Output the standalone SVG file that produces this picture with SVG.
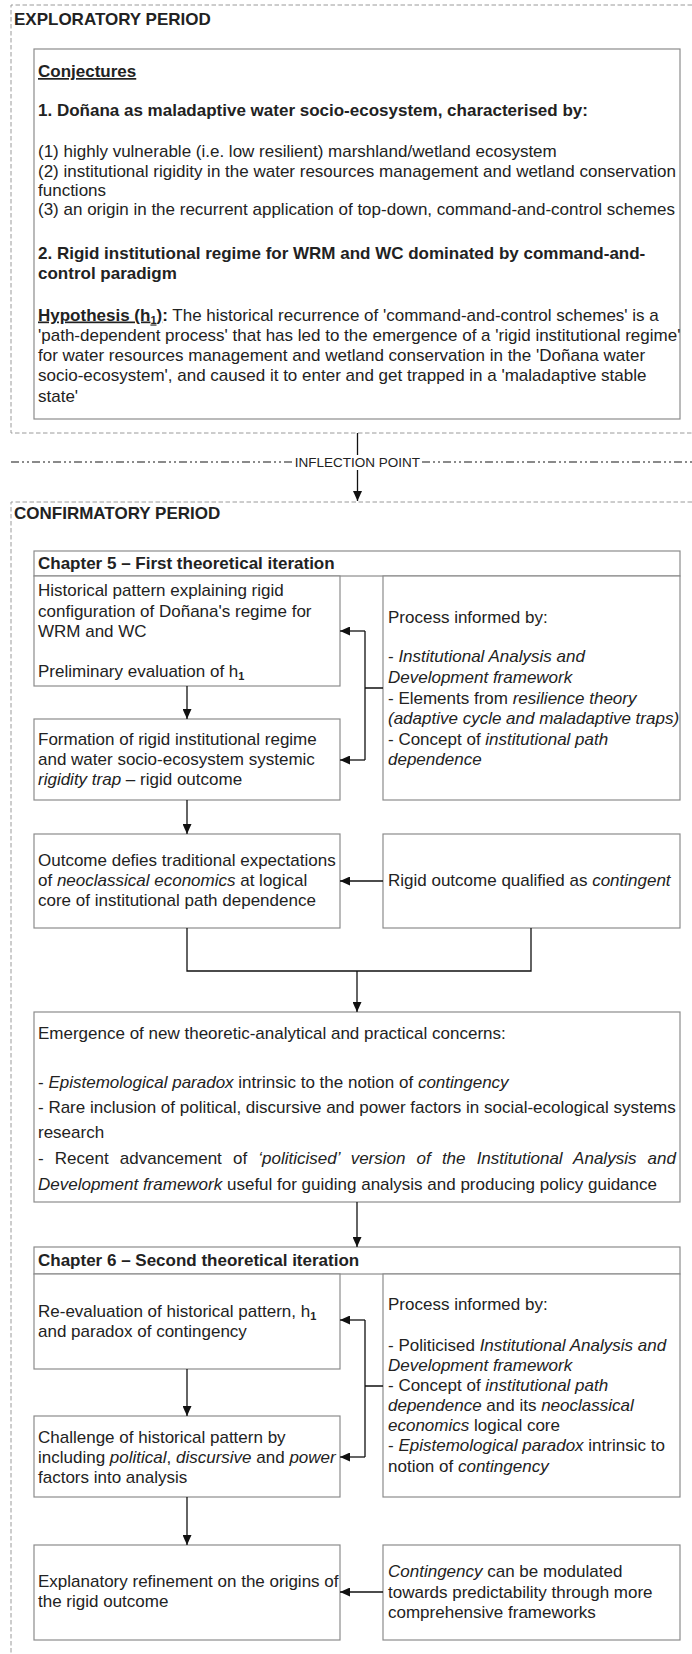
<svg xmlns="http://www.w3.org/2000/svg" width="692" height="1654" viewBox="0 0 692 1654">
<style>
text{font-family:"Liberation Sans",Arial,sans-serif;font-size:17px;fill:#222}
.b{font-weight:bold}
.i{font-style:italic}
.u{text-decoration:underline}
.sub{font-size:11px;font-weight:bold}
.box{fill:#fff;stroke:#8c8c8c;stroke-width:1.2}
.dash{fill:none;stroke:#9a9a9a;stroke-width:1;stroke-dasharray:4.5 2.5}
.dd{fill:none;stroke:#8a8a8a;stroke-width:1.8;stroke-dasharray:8 3 2 3 2 3}
.conn{fill:none;stroke:#111;stroke-width:1.3}
.arr{marker-end:url(#ah)}
</style>
<defs>
<marker id="ah" markerUnits="userSpaceOnUse" markerWidth="10" markerHeight="9" refX="10" refY="4.5" orient="auto">
<path d="M0,0 L10,4.5 L0,9 z" fill="#111"/>
</marker>
</defs>
<rect width="692" height="1654" fill="#fff"/>

<g id="exploratory-period">
<path class="dash" d="M692,5 H11 V433 H692"/>
<text x="14" y="25" class="b">EXPLORATORY PERIOD</text>
</g>

<g id="conjectures">
<rect class="box" x="34" y="49" width="646" height="370"/>
<text x="38" y="77" class="b u">Conjectures</text>
<text x="38" y="116" class="b">1. Doñana as maladaptive water socio-ecosystem, characterised by:</text>
<text x="38" y="157">(1) highly vulnerable (i.e. low resilient) marshland/wetland ecosystem</text>
<text x="38" y="176.5">(2) institutional rigidity in the water resources management and wetland conservation</text>
<text x="38" y="196">functions</text>
<text x="38" y="215">(3) an origin in the recurrent application of top-down, command-and-control schemes</text>
<text x="38" y="258.5" class="b">2. Rigid institutional regime for WRM and WC dominated by command-and-</text>
<text x="38" y="278.5" class="b">control paradigm</text>
<text x="38" y="320.5"><tspan class="b u">Hypothesis (h<tspan class="sub" dy="3">1</tspan><tspan dy="-3">)</tspan></tspan><tspan class="b">:</tspan> The historical recurrence of 'command-and-control schemes' is a</text>
<text x="38" y="341">'path-dependent process' that has led to the emergence of a 'rigid institutional regime'</text>
<text x="38" y="361">for water resources management and wetland conservation in the 'Doñana water</text>
<text x="38" y="381">socio-ecosystem', and caused it to enter and get trapped in a 'maladaptive stable</text>
<text x="38" y="401.5">state'</text>
</g>

<g id="inflection-point">
<path class="dd" d="M11,462 H293 M422,462 H692"/>
<text x="357.5" y="467" text-anchor="middle" style="font-size:13.5px">INFLECTION POINT</text>
</g>

<g id="confirmatory-period">
<path class="dash" d="M692,502 H11 V1654"/>
<text x="14" y="519" class="b">CONFIRMATORY PERIOD</text>
</g>

<g id="ch5-header">
<rect class="box" x="34" y="551" width="646" height="25"/>
<text x="38" y="569" class="b">Chapter 5 – First theoretical iteration</text>
</g>

<g id="historical-pattern">
<rect class="box" x="34" y="576" width="306" height="110"/>
<text x="38" y="596">Historical pattern explaining rigid</text>
<text x="38" y="616.5">configuration of Doñana's regime for</text>
<text x="38" y="637">WRM and WC</text>
<text x="38" y="677">Preliminary evaluation of h<tspan class="sub" dy="3">1</tspan></text>
</g>

<g id="formation">
<rect class="box" x="34" y="719" width="306" height="81"/>
<text x="38" y="745">Formation of rigid institutional regime</text>
<text x="38" y="765">and water socio-ecosystem systemic</text>
<text x="38" y="785"><tspan class="i">rigidity trap</tspan> – rigid outcome</text>
</g>

<g id="process-ch5">
<rect class="box" x="383" y="576" width="297" height="224"/>
<text x="388" y="623">Process informed by:</text>
<text x="388" y="662">- <tspan class="i">Institutional Analysis and</tspan></text>
<text x="388" y="683" class="i">Development framework</text>
<text x="388" y="704">- Elements from <tspan class="i">resilience theory</tspan></text>
<text x="388" y="724" class="i">(adaptive cycle and maladaptive traps)</text>
<text x="388" y="745">- Concept of <tspan class="i">institutional path</tspan></text>
<text x="388" y="765" class="i">dependence</text>
</g>

<g id="outcome">
<rect class="box" x="34" y="834" width="306" height="94"/>
<text x="38" y="866">Outcome defies traditional expectations</text>
<text x="38" y="886">of <tspan class="i">neoclassical economics</tspan> at logical</text>
<text x="38" y="906">core of institutional path dependence</text>
</g>

<g id="contingent">
<rect class="box" x="383" y="834" width="297" height="94"/>
<text x="388" y="886">Rigid outcome qualified as <tspan class="i">contingent</tspan></text>
</g>

<g id="emergence">
<rect class="box" x="34" y="1012" width="646" height="190"/>
<text x="38" y="1039">Emergence of new theoretic-analytical and practical concerns:</text>
<text x="38" y="1088">- <tspan class="i">Epistemological paradox</tspan> intrinsic to the notion of <tspan class="i">contingency</tspan></text>
<text x="38" y="1113">- Rare inclusion of political, discursive and power factors in social-ecological systems</text>
<text x="38" y="1138">research</text>
<text x="38" y="1164" word-spacing="6.4">- Recent advancement of <tspan class="i">‘politicised’ version of the Institutional Analysis and</tspan></text>
<text x="38" y="1189.5"><tspan class="i">Development framework</tspan> useful for guiding analysis and producing policy guidance</text>
</g>

<g id="ch6-header">
<rect class="box" x="34" y="1247" width="646" height="27"/>
<text x="38" y="1266" class="b">Chapter 6 – Second theoretical iteration</text>
</g>

<g id="re-evaluation">
<rect class="box" x="34" y="1274" width="306" height="95"/>
<text x="38" y="1316.5">Re-evaluation of historical pattern, h<tspan class="sub" dy="3">1</tspan></text>
<text x="38" y="1337">and paradox of contingency</text>
</g>

<g id="challenge">
<rect class="box" x="34" y="1416" width="306" height="81"/>
<text x="38" y="1442.5">Challenge of historical pattern by</text>
<text x="38" y="1462.5">including <tspan class="i">political</tspan>, <tspan class="i">discursive</tspan> and <tspan class="i">power</tspan></text>
<text x="38" y="1482.5">factors into analysis</text>
</g>

<g id="process-ch6">
<rect class="box" x="383" y="1274" width="297" height="223"/>
<text x="388" y="1310">Process informed by:</text>
<text x="388" y="1350.5">- Politicised <tspan class="i">Institutional Analysis and</tspan></text>
<text x="388" y="1370.5" class="i">Development framework</text>
<text x="388" y="1390.5">- Concept of <tspan class="i">institutional path</tspan></text>
<text x="388" y="1410.5"><tspan class="i">dependence</tspan> and its <tspan class="i">neoclassical</tspan></text>
<text x="388" y="1431"><tspan class="i">economics</tspan> logical core</text>
<text x="388" y="1451">- <tspan class="i">Epistemological paradox</tspan> intrinsic to</text>
<text x="388" y="1471.5">notion of <tspan class="i">contingency</tspan></text>
</g>

<g id="explanatory-refinement">
<rect class="box" x="34" y="1545" width="306" height="95"/>
<text x="38" y="1587">Explanatory refinement on the origins of</text>
<text x="38" y="1607">the rigid outcome</text>
</g>

<g id="contingency-modulated">
<rect class="box" x="383" y="1545" width="297" height="95"/>
<text x="388" y="1577"><tspan class="i">Contingency</tspan> can be modulated</text>
<text x="388" y="1598">towards predictability through more</text>
<text x="388" y="1618">comprehensive frameworks</text>
</g>

<g id="connectors">
<path class="conn" d="M357.5,433 V455"/>
<path class="conn arr" d="M357.5,470 V501"/>
<path class="conn arr" d="M187,686 V719"/>
<path class="conn" d="M383,688 H365 M365,631 V760"/>
<path class="conn arr" d="M365,631 H340"/>
<path class="conn arr" d="M365,760 H340"/>
<path class="conn arr" d="M187,800 V834"/>
<path class="conn arr" d="M383,881 H340"/>
<path class="conn" d="M187,928 V971 H531 V928"/>
<path class="conn arr" d="M357,971 V1012"/>
<path class="conn arr" d="M357,1202 V1247"/>
<path class="conn arr" d="M187,1369 V1416"/>
<path class="conn" d="M383,1386 H365 M365,1320 V1457"/>
<path class="conn arr" d="M365,1320 H340"/>
<path class="conn arr" d="M365,1457 H340"/>
<path class="conn arr" d="M187,1497 V1545"/>
<path class="conn arr" d="M383,1592 H340"/>
</g>
</svg>
